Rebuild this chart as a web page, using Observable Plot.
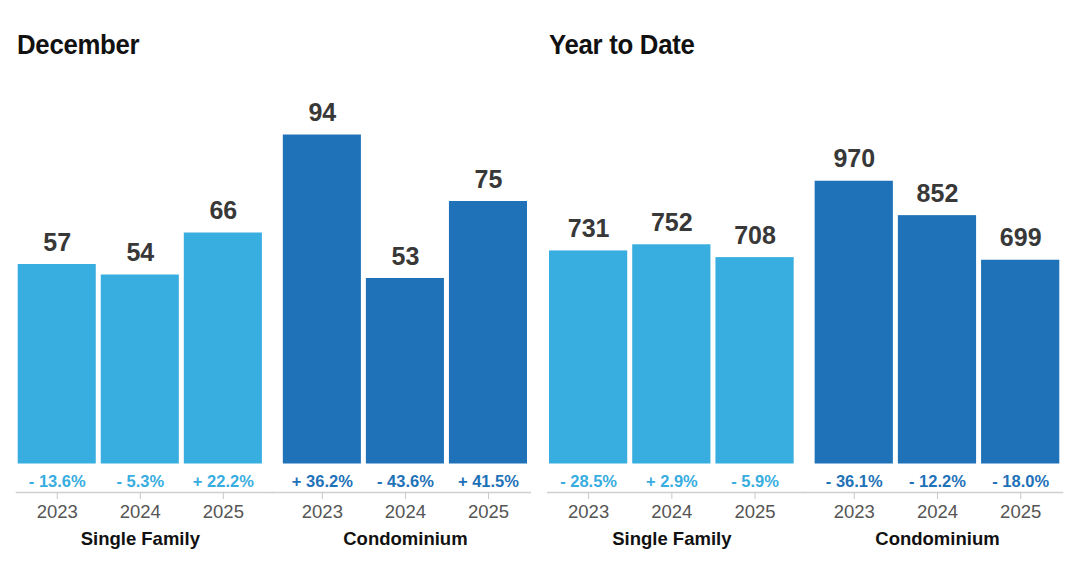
<!DOCTYPE html>
<html>
<head>
<meta charset="utf-8">
<script src="https://cdn.jsdelivr.net/npm/d3@7"></script>
<script src="https://cdn.jsdelivr.net/npm/@observablehq/plot@0.6"></script>
<style>
  html, body { margin: 0; padding: 0; background: #fff; }
  #wrap { position: relative; width: 1078px; height: 570px; overflow: hidden; }
  .panel { position: absolute; top: 0; width: 539px; height: 570px; }
  .title {
    position: absolute; top: 31px; margin: 0;
    font-family: "Liberation Sans", Arial, Helvetica, sans-serif;
    font-weight: bold; font-size: 28px; line-height: 28px; letter-spacing: -0.3px;
    color: #111; transform: scaleX(0.92); transform-origin: left center; white-space: nowrap;
  }
  .chart { position: absolute; top: 70px; left: 0; }
</style>
</head>
<body>
<div id="wrap">
  <div class="panel" id="left"><div class="title" style="left:17px">December</div><div class="chart"></div></div>
  <div class="panel" id="right" style="left:539px"><div class="title" style="left:10px">Year to Date</div><div class="chart"></div></div>
</div>
<script>
const categories = ["Single Family", "Condominium"];
const years = ["2023", "2024", "2025"];
const colors = ["#38ade0", "#1f72b8"];

const decSF = [57, 54, 66];
const decCondo = [94, 53, 75];
const decSFChange = [-13.6, -5.3, 22.2];
const decCondoChange = [36.2, -43.6, 41.5];

const ytdSF = [731, 752, 708];
const ytdCondo = [970, 852, 699];
const ytdSFChange = [-28.5, 2.9, -5.9];
const ytdCondoChange = [-36.1, -12.2, -18.0];

function rows(sf, condo, sfCh, condoCh) {
  const out = [];
  years.forEach((y, i) => out.push({type: categories[0], year: y, value: sf[i], change: sfCh[i]}));
  years.forEach((y, i) => out.push({type: categories[1], year: y, value: condo[i], change: condoCh[i]}));
  return out;
}
const fmt = v => (v < 0 ? "- " : "+ ") + Math.abs(v).toFixed(1) + "%";
const FONT = "'Liberation Sans', Arial, Helvetica, sans-serif";

function panel(data, yMax, ml, mr) {
  const base = 28.5;
  return Plot.plot({
    width: 539, height: 500,
    marginTop: 30, marginBottom: 78, marginLeft: ml, marginRight: mr,
    style: {fontFamily: FONT, background: "transparent", overflow: "visible"},
    fx: {domain: categories, paddingInner: 0.079, paddingOuter: 0, round: false, axis: null, label: null},
    x: {domain: years, paddingInner: 0.06, paddingOuter: 0, round: false, axis: null, label: null},
    y: {domain: [0, yMax], insetBottom: base, axis: null},
    color: {domain: categories, range: colors},
    marks: [
      Plot.barY(data, {fx: "type", x: "year", y: "value", fill: "type"}),
      Plot.text(data, {fx: "type", x: "year", y: "value", text: d => String(d.value), dy: -22,
        fontSize: 25, fontWeight: "bold", fill: "#383838"}),
      Plot.text(data, {fx: "type", x: "year", text: d => fmt(d.change), frameAnchor: "bottom", dy: -5.8,
        fontSize: 16.5, fontWeight: "bold", fill: "type"}),
      Plot.ruleY([{type: categories[0], v: 0}], {fx: "type", y: "v", dy: base, insetLeft: -2, insetRight: -11,
        stroke: "#cfcfcf", strokeWidth: 1.6}),
      Plot.ruleY([{type: categories[1], v: 0}], {fx: "type", y: "v", dy: base, insetLeft: -11, insetRight: -4,
        stroke: "#cfcfcf", strokeWidth: 1.6}),
      Plot.axisX({tickSize: 7, tickPadding: 5, fontSize: 18.5, fill: "#555", stroke: "#c8c8c8", label: null}),
      Plot.axisFx({anchor: "bottom", tickSize: 0, tickPadding: 39.5, fontSize: 18.5, fontWeight: "bold",
        fill: "#111", label: null})
    ]
  });
}

const dec = rows(decSF, decCondo, decSFChange, decCondoChange);
const ytd = rows(ytdSF, ytdCondo, ytdSFChange, ytdCondoChange);
document.querySelector("#left .chart").append(panel(dec, 103.86, 17.7, 12));
document.querySelector("#right .chart").append(panel(ytd, 1247, 10, 18.7));
</script>
</body>
</html>
